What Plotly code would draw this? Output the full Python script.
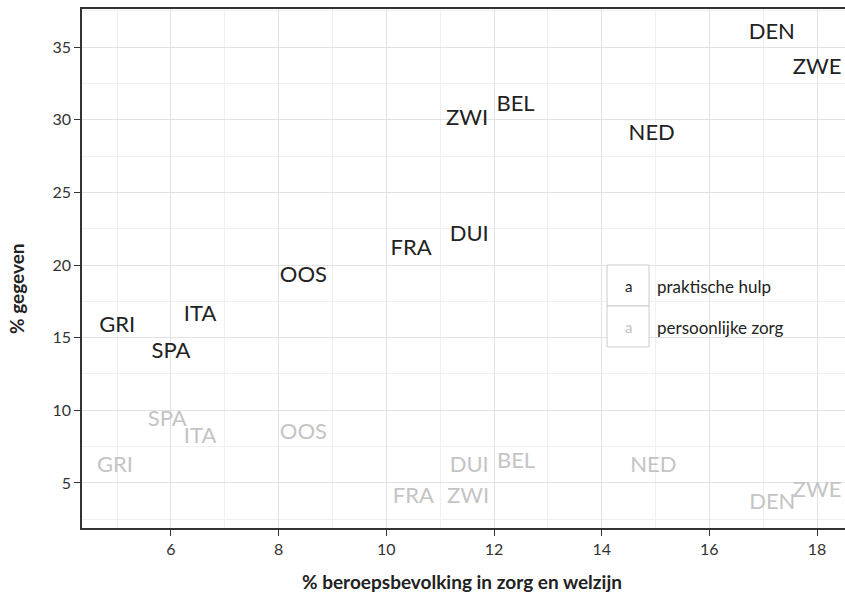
import plotly.graph_objects as go

# Data
landen_hulp = ["GRI", "ITA", "SPA", "OOS", "FRA", "DUI", "ZWI", "BEL", "NED", "DEN", "ZWE"]
x_hulp = [5.0, 6.54, 6.0, 8.46, 10.46, 11.54, 11.5, 12.4, 14.93, 17.16, 18.0]
y_hulp = [15.8, 16.5, 14.0, 19.2, 21.1, 22.0, 30.0, 31.0, 29.0, 35.9, 33.5]

landen_zorg = ["GRI", "ITA", "SPA", "OOS", "FRA", "DUI", "ZWI", "BEL", "NED", "DEN", "ZWE"]
x_zorg = [4.96, 6.54, 5.93, 8.46, 10.5, 11.54, 11.52, 12.41, 14.96, 17.17, 18.0]
y_zorg = [6.1, 8.1, 9.3, 8.4, 4.0, 6.1, 4.0, 6.4, 6.1, 3.6, 4.4]

x_ticks = [6, 8, 10, 12, 14, 16, 18]
y_ticks = [5, 10, 15, 20, 25, 30, 35]

FONT = "Lato, 'Open Sans', sans-serif"
BLACK = "#222222"
GREY = "#c4c4c4"

fig = go.Figure()
fig.add_trace(go.Scatter(x=x_zorg, y=y_zorg, text=landen_zorg, mode="text",
                         textposition="middle center", cliponaxis=False,
                         textfont=dict(family=FONT, size=22, color=GREY),
                         showlegend=False, hoverinfo="skip"))
fig.add_trace(go.Scatter(x=x_hulp, y=y_hulp, text=landen_hulp, mode="text",
                         textposition="middle center", cliponaxis=False,
                         textfont=dict(family=FONT, size=22, color=BLACK),
                         showlegend=False, hoverinfo="skip"))

axis_common = dict(
    showline=True, linecolor="#333333", linewidth=1.5,
    ticks="outside", ticklen=6, tickcolor="#333333", tickwidth=1.2,
    gridcolor="#e2e2e2", gridwidth=1.2, zeroline=False,
    tickfont=dict(family=FONT, size=16, color="#333333"),
)

fig.update_xaxes(range=[4.347, 18.52], tickvals=x_ticks, mirror=True,
                 minor=dict(tickvals=[5, 7, 9, 11, 13, 15, 17], showgrid=True,
                            gridcolor="#f0f0f0", gridwidth=1, ticks=""),
                 **axis_common)
fig.update_yaxes(range=[1.90, 37.62], tickvals=y_ticks,
                 minor=dict(tickvals=[2.5, 7.5, 12.5, 17.5, 22.5, 27.5, 32.5, 37.5],
                            showgrid=True, gridcolor="#f0f0f0", gridwidth=1, ticks=""),
                 **axis_common)

L, R, T, B = 82, 0, 9, 68
W, H = 845, 596
pw, ph = W - L - R, H - T - B

def px(xp):
    return (xp - L) / pw

def py(yp):
    return (H - B - yp) / ph

# Legend (drawn inside the plot)
shapes = [
    dict(type="rect", xref="paper", yref="paper", x0=px(607), x1=px(649), y0=py(306), y1=py(265),
         line=dict(color="#cccccc", width=1), fillcolor="white", layer="above"),
    dict(type="rect", xref="paper", yref="paper", x0=px(607), x1=px(649), y0=py(347), y1=py(306),
         line=dict(color="#cccccc", width=1), fillcolor="white", layer="above"),
]
annotations = [
    dict(text="a", x=px(628), y=py(286), xref="paper", yref="paper", showarrow=False,
         font=dict(family=FONT, size=15, color=BLACK), xanchor="center", yanchor="middle"),
    dict(text="a", x=px(628), y=py(327), xref="paper", yref="paper", showarrow=False,
         font=dict(family=FONT, size=15, color=GREY), xanchor="center", yanchor="middle"),
    dict(text="praktische hulp", x=px(655), y=py(286), xref="paper", yref="paper", showarrow=False,
         font=dict(family=FONT, size=17, color=BLACK), xanchor="left", yanchor="middle"),
    dict(text="persoonlijke zorg", x=px(655), y=py(327), xref="paper", yref="paper", showarrow=False,
         font=dict(family=FONT, size=17, color=BLACK), xanchor="left", yanchor="middle"),
    dict(text="<b>% beroepsbevolking in zorg en welzijn</b>", x=px(462), y=py(581),
         xref="paper", yref="paper", showarrow=False, xanchor="center", yanchor="middle",
         font=dict(family=FONT, size=19, color=BLACK)),
    dict(text="<b>% gegeven</b>", x=px(16), y=py(289), xref="paper", yref="paper",
         showarrow=False, xanchor="center", yanchor="middle", textangle=-90,
         font=dict(family=FONT, size=19, color=BLACK)),
]

fig.update_layout(
    width=W, height=H,
    margin=dict(l=L, r=R, t=T, b=B, pad=0),
    paper_bgcolor="white", plot_bgcolor="white",
    shapes=shapes, annotations=annotations,
    showlegend=False,
    font=dict(family=FONT),
)

fig.write_html("out.html", config={"displayModeBar": False},
               post_script="document.body.style.margin='0';document.body.style.overflow='hidden';")
